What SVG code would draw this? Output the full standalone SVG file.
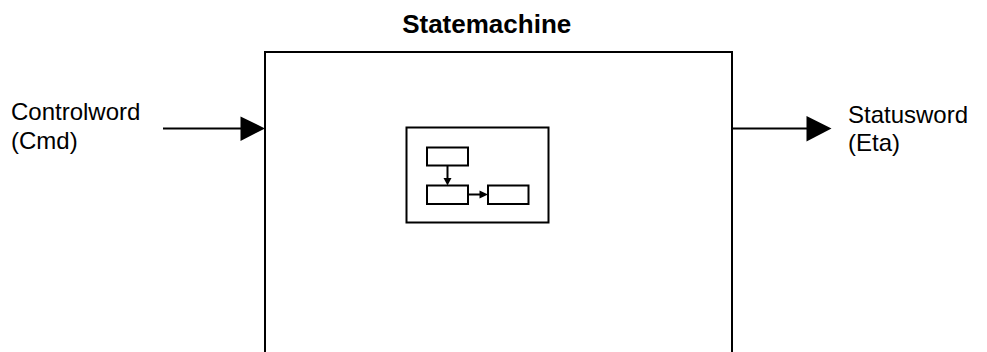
<svg xmlns="http://www.w3.org/2000/svg" width="987" height="352" viewBox="0 0 987 352">
<style>
.box{fill:none;stroke:#000;stroke-width:2}
.sbox{fill:#fff;stroke:#000;stroke-width:2}
.line{fill:none;stroke:#000;stroke-width:2}
.lbl{font-family:"Liberation Sans",Arial,sans-serif;font-size:24px;fill:#000}
.title{font-family:"Liberation Sans",Arial,sans-serif;font-size:26px;font-weight:bold;fill:#000}
</style>
<rect width="987" height="352" fill="#fff"/>
<g id="statemachine">
<rect class="box" x="265" y="52" width="467" height="310"/>
<text class="title" x="486.7" y="33" text-anchor="middle">Statemachine</text>
</g>
<g id="icon">
<rect class="box" x="406.5" y="127.5" width="142" height="95"/>
<rect class="sbox" x="427" y="147.5" width="41" height="18"/>
<rect class="sbox" x="427" y="185.5" width="41" height="18.5"/>
<rect class="sbox" x="488" y="185.5" width="40.5" height="18.5"/>
</g>
<g id="controlword">
<text class="lbl" x="11" y="120">Controlword</text>
<text class="lbl" x="11" y="148.5">(Cmd)</text>
</g>
<g id="statusword">
<text class="lbl" x="848" y="123">Statusword</text>
<text class="lbl" x="848" y="151">(Eta)</text>
</g>
<g id="connectors">
<line class="line" x1="163" y1="128.5" x2="242" y2="128.5"/>
<polygon points="240.5,116.5 265,128.5 240.5,141" fill="#000"/>
<line class="line" x1="732" y1="128.5" x2="808" y2="128.5"/>
<polygon points="806.5,116 831.5,128.5 806.5,141.5" fill="#000"/>
<line class="line" x1="447.5" y1="165.5" x2="447.5" y2="179"/>
<polygon points="443.5,178 451.5,178 447.5,185.5" fill="#000"/>
<line class="line" x1="468" y1="194.5" x2="481" y2="194.5"/>
<polygon points="479.5,190.5 479.5,198.5 488,194.5" fill="#000"/>
</g>
</svg>
